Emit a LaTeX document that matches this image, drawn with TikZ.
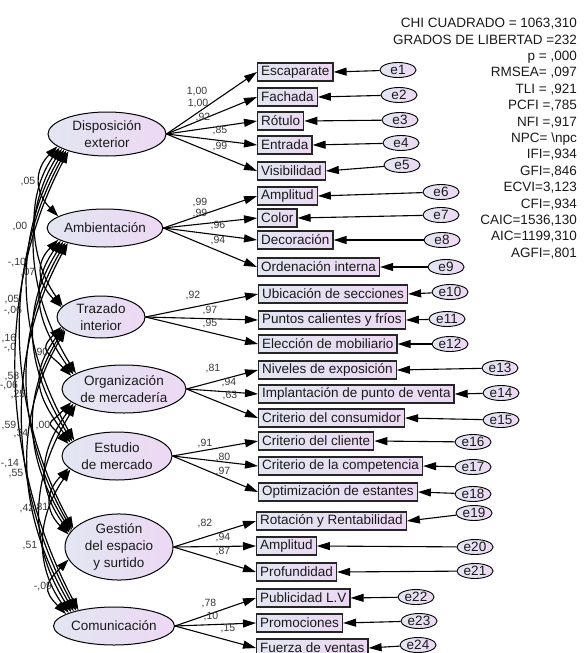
\documentclass[tikz,border=0pt]{standalone}
\usepackage{fontspec}
\setmainfont{Liberation Sans}
\usepackage{xcolor}
\usepackage{tikz}
\usetikzlibrary{positioning,arrows.meta,shapes.geometric}
\definecolor{ShadeLeft}{HTML}{E2E6F2}
\definecolor{ShadeRight}{HTML}{EDD8F3}
\definecolor{TextDark}{HTML}{1A1A1A}
\definecolor{LabelGray}{HTML}{3A3A3A}

\tikzset{
  latent/.style={ellipse, draw=black, line width=1pt, left color=ShadeLeft,
    right color=ShadeRight, inner sep=0pt, align=center, text=TextDark,
    font=\fontsize{13.5}{17}\selectfont},
  observed/.style={rectangle, draw=black!85, line width=1.3pt, left color=ShadeLeft,
    right color=ShadeRight, inner xsep=3.5pt, inner ysep=0pt, minimum height=18pt,
    anchor=west, text=TextDark, font=\fontsize{13.5}{16}\selectfont},
  errvar/.style={ellipse, draw=black, line width=0.9pt, left color=ShadeLeft,
    right color=ShadeRight, inner sep=0pt, minimum width=36pt, minimum height=15pt,
    text=TextDark, font=\fontsize{13.5}{16}\selectfont},
  loading/.style={draw=black, line width=1.1pt, -{Triangle[length=13pt,width=8pt]}},
  residual/.style={draw=black, line width=1.1pt, -{Triangle[length=13pt,width=8pt]}},
  cov/.style={draw=black, line width=1.2pt,
    {Triangle[length=12pt,width=8pt]}-{Triangle[length=12pt,width=8pt]}},
  weight/.style={inner sep=0pt, text=LabelGray, font=\fontsize{10.5}{11}\selectfont},
  fitstats/.style={inner sep=0pt, align=right, text=TextDark,
    font=\fontsize{13.5}{16.4}\selectfont}
}

\begin{document}
\begin{tikzpicture}[x=1pt,y=-1pt]
  \useasboundingbox (0,0) rectangle (584,653);
  \fill[white] (0,0) rectangle (584,653);
  \clip (0,0) rectangle (584,653);

  % factores latentes
  \node[latent, minimum width=118pt, minimum height=44pt] (f1) at (107,134) {Disposición\\exterior};
  \node[latent, minimum width=112pt, minimum height=38pt] (f2) at (105,228) {Ambientación};
  \node[latent, minimum width=88pt, minimum height=42pt] (f3) at (101,317) {Trazado\\interior};
  \node[latent, minimum width=124pt, minimum height=48pt] (f4) at (124,389) {Organización\\de mercadería};
  \node[latent, minimum width=110pt, minimum height=48pt] (f5) at (117,456) {Estudio\\de mercado};
  \node[latent, minimum width=108pt, minimum height=50pt] (f6) at (119,547) {Gestión\\del espacio\\y surtido};
  \node[latent, minimum width=98pt, minimum height=38pt] (f7) at (114,626) {Comunicación};

  % indicadores
  \foreach \n/\x/\y/\txt in {1/257/72/Escaparate, 2/257/97/Fachada, 3/257/121/Rótulo,
      4/257/145/Entrada, 5/257/171/Visibilidad, 6/257/196/Amplitud, 7/257/218/Color,
      8/257/240/Decoración, 9/257/267/Ordenación interna,
      10/258/294/Ubicación de secciones, 11/258/320/Puntos calientes y fríos,
      12/258/344/Elección de mobiliario, 13/258/370/Niveles de exposición,
      14/258/394/Implantación de punto de venta, 15/258/418/Criterio del consumidor,
      16/258/441/Criterio del cliente, 17/258/466/Criterio de la competencia,
      18/258/492/Optimización de estantes, 19/256/521/Rotación y Rentabilidad,
      20/256/546/Amplitud, 21/256/572/Profundidad, 22/256/598/Publicidad L.V,
      23/256/623/Promociones, 24/256/648/Fuerza de ventas}
    \node[observed] (o\n) at (\x,\y) {\txt};

  % errores
  \foreach \n/\x/\y in {1/398/70, 2/399/95, 3/400/120, 4/401/143, 5/402/165,
      6/441/192, 7/441/215, 8/442/240, 9/446/267, 10/450/292, 11/447/319,
      12/450/344, 13/500/368, 14/501/393, 15/501/420, 16/473/442, 17/473/467,
      18/473/494, 19/474/513, 20/475/547, 21/475/571, 22/416/597, 23/419/621,
      24/418/645}
    \node[errvar] (e\n) at (\x,\y) {e\n};

  \foreach \n in {1,...,24}
    \draw[residual] (e\n) -- (o\n.east);

  % cargas factoriales
  \foreach \f/\first/\last in {1/1/5, 2/6/9, 3/10/12, 4/13/15, 5/16/18, 6/19/21, 7/22/24}
    \foreach \n in {\first,...,\last}
      \draw[loading] (f\f.east) -- (o\n.west);

  \foreach \x/\y/\v [count=\k] in {197/92/{1,00}, 198/104/{1,00}, 203/118/{,92},
      220/131/{,85}, 220/147/{,99}, 200/203/{,99}, 200/214/{,99}, 218/226/{,96},
      218/241/{,94}, 193/296/{,92}, 210/311/{,97}, 210/324/{,95}, 213/369/{,81},
      229/383/{,94}, 230/396/{,63}, 205/443/{,91}, 223/457/{,80}, 223/471/{,97},
      205/523/{,82}, 223/537/{,94}, 223/551/{,87}, 209/603/{,78}, 211/616/{,10},
      228/629/{,15}}
    \node[weight] (w\k) at (\x,\y) {\v};

  % covarianzas entre factores
  \foreach \i in {1,...,6}{
    \pgfmathtruncatemacro{\inext}{\i+1}
    \foreach \j in {\inext,...,7}{
      \pgfmathsetmacro{\c}{13+10.5*(\j-\i)}
      \pgfmathsetmacro{\h}{24*(\j-\i)}
      \pgfmathtruncatemacro{\as}{192+2*(\j-\i)}
      \pgfmathtruncatemacro{\ae}{168-2*(\j-\i)}
      \draw[cov] (f\i.\as) .. controls +(-\c,\h) and +(-\c,-\h) .. (f\j.\ae);
    }
  }

  \foreach \x/\y/\v [count=\k] in {28/182/{,05}, 20/227/{,00}, 17/263/{-,10},
      28/273/{,07}, 12/300/{,05}, 13/311/{-,06}, 9/339/{,16}, 10/348/{-,0},
      41/353/{,90}, 12/377/{,58}, 9/386/{-,06}, 18/395/{,25}, 9/425/{,59},
      21/434/{,34}, 43/425/{,00}, 10/464/{-,14}, 16/474/{,55}, 27/508/{,42},
      41/507/{,81}, 30/546/{,51}, 43/586/{-,09}}
    \node[weight] (r\k) at (\x,\y) {\v};

  % indices de ajuste
  \node[fitstats, anchor=north east] (fit) at (577,18) {%
    CHI CUADRADO = 1063,310\\GRADOS DE LIBERTAD =232\\p = ,000\\RMSEA= ,097\\
    TLI = ,921\\PCFI =,785\\NFI =,917\\NPC= \textbackslash npc\\IFI=,934\\
    GFI=,846\\ECVI=3,123\\CFI=,934\\CAIC=1536,130\\AIC=1199,310\\AGFI=,801};
\end{tikzpicture}
\end{document}
